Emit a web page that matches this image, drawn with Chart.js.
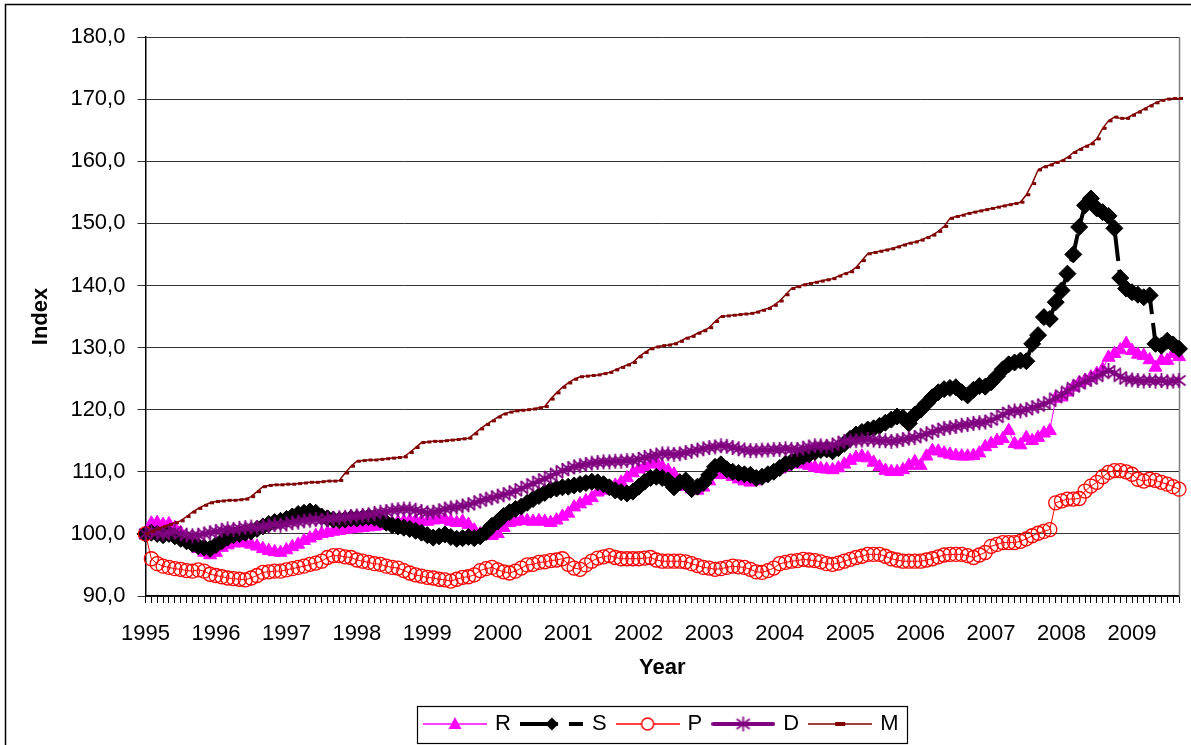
<!DOCTYPE html>
<html>
<head>
<meta charset="utf-8">
<title>Index 1995-2009</title>
<script src="https://cdn.jsdelivr.net/npm/chart.js@4.4.1/dist/chart.umd.min.js"></script>
<style>
  html, body { margin: 0; padding: 0; background: #fff; }
  #wrap { width: 1191px; height: 745px; }
</style>
</head>
<body>
<div id="wrap"><canvas id="chart" width="1191" height="745"></canvas></div>
<script>
// Monthly index values, Jan 1995 - Sep 2009
const years = ['1995', '1996', '1997', '1998', '1999', '2000', '2001', '2002',
               '2003', '2004', '2005', '2006', '2007', '2008', '2009'];
const seriesNames = ['R', 'S', 'P', 'D', 'M'];

const valuesR = [
    100.0, 101.7, 101.8, 101.5, 101.6, 101.0, 100.2, 99.3, 98.5, 97.6, 97.0, 96.6,
    97.0, 97.8, 98.2, 98.5, 98.6, 98.5, 98.3, 98.0, 97.6, 97.3, 97.1, 97.0,
    97.4, 97.9, 98.3, 98.9, 99.3, 99.7, 100.0, 100.2, 100.4, 100.5, 100.7, 100.8,
    100.9, 101.0, 101.1, 101.2, 101.3, 101.5, 101.7, 101.9, 102.0, 102.1, 102.1, 102.0,
    102.0, 102.2, 102.4, 102.3, 102.0, 101.8, 102.0, 101.5, 100.6, 100.0, 99.8, 99.7,
    100.0, 101.0, 101.8, 102.0, 102.2, 102.1, 102.0, 102.1, 102.0, 101.8, 102.2, 102.8,
    103.3, 104.3, 104.8, 105.3, 105.8, 106.7, 107.0, 107.3, 107.8, 108.3, 109.0, 109.8,
    110.4, 110.8, 111.2, 111.5, 110.8, 110.2, 109.6, 108.5, 107.6, 107.2, 107.0, 107.5,
    108.5, 109.5, 110.0, 109.5, 109.2, 108.8, 108.5, 108.3, 108.5, 109.0, 109.5, 110.0,
    110.4, 110.8, 111.2, 111.3, 111.2, 111.0, 110.7, 110.5, 110.4, 110.3, 110.6, 111.2,
    111.8, 112.3, 112.5, 112.2, 111.5, 110.8, 110.2, 110.0, 110.0, 110.3, 111.0, 111.6,
    111.0, 112.5, 113.4, 113.3, 113.0, 112.8, 112.6, 112.5, 112.5, 112.6, 113.0, 114.0,
    114.5, 115.0, 115.3, 116.6, 114.5, 114.3, 115.5, 115.0, 115.5, 116.2, 116.6, 121.8,
    122.0, 122.8, 123.6, 124.3, 124.7, 125.2, 125.8, 126.5, 128.4, 129.0, 129.6, 130.6,
    129.5, 128.9, 128.7, 128.0, 126.8, 127.9, 127.9, 129.0, 128.5
];

const valuesS = [
    100.0, 100.2, 100.0, 99.8, 100.0, 99.6, 99.2, 98.8, 98.4, 98.0, 97.8, 97.6,
    98.2, 98.8, 99.4, 99.8, 100.0, 100.2, 100.4, 100.8, 101.2, 101.6, 101.9, 102.1,
    102.4, 102.8, 103.2, 103.4, 103.6, 103.4, 102.8, 102.5, 102.3, 102.2, 102.3, 102.5,
    102.5, 102.6, 102.7, 102.6, 102.3, 101.8, 101.4, 101.2, 101.0, 100.8, 100.5, 100.2,
    99.8, 99.4, 99.6, 99.9, 99.5, 99.2, 99.3, 99.5, 99.3, 99.6, 100.3, 101.3,
    102.0, 102.9, 103.5, 104.0, 104.4, 105.0, 105.6, 106.1, 106.6, 107.1, 107.3, 107.5,
    107.6, 107.8, 108.0, 108.2, 108.4, 108.3, 108.0, 107.5, 107.0, 106.7, 106.5, 106.8,
    107.6, 108.4, 109.0, 109.2, 109.0, 108.6, 107.5, 108.3, 108.6, 107.2, 107.6, 108.2,
    109.5, 110.8, 111.2, 110.4, 110.0, 109.8, 109.6, 109.5, 109.0, 109.2, 109.6, 110.0,
    110.6, 111.3, 111.6, 112.0, 112.5, 112.8, 113.2, 113.5, 113.6, 113.3, 113.8, 114.5,
    115.3, 116.0, 116.4, 116.8, 117.0, 117.4, 117.9, 118.4, 118.9, 118.7, 117.8, 119.2,
    120.0, 121.0, 122.0, 122.8, 123.3, 123.5, 123.6, 122.8, 122.3, 123.2, 123.8, 123.7,
    124.4, 125.4, 126.5, 127.3, 127.6, 127.9, 127.8, 130.6, 132.0, 134.9, 134.6, 137.3,
    139.2, 141.9, 145.0, 149.4, 152.9, 154.0, 152.4, 151.8, 151.2, 149.2, 141.2, 139.5,
    138.9, 138.5, 138.1, 138.4, 130.6, 130.3, 131.1, 130.5, 129.8
];

const valuesP = [
    100.0, 96.0, 95.2, 94.8, 94.6, 94.4, 94.3, 94.1, 94.0, 94.2, 94.0, 93.5,
    93.3, 93.1, 92.9, 92.8, 92.7, 92.6, 92.9, 93.3, 93.8, 93.9, 94.0, 94.0,
    94.2, 94.4, 94.6, 94.8, 95.1, 95.3, 95.6, 96.2, 96.5, 96.5, 96.3, 96.2,
    95.8, 95.6, 95.4, 95.2, 95.1, 94.8, 94.6, 94.5, 94.1, 93.7, 93.4, 93.2,
    93.0, 92.9, 92.7, 92.6, 92.4, 92.7, 93.0, 93.1, 93.4, 94.1, 94.4, 94.6,
    94.2, 93.9, 93.7, 94.0, 94.5, 95.0, 95.1, 95.4, 95.5, 95.7, 95.8, 96.0,
    95.1, 94.5, 94.3, 95.0, 95.6, 96.1, 96.3, 96.5, 96.2, 96.0, 96.0, 96.0,
    96.0, 96.1, 96.2, 95.8, 95.6, 95.6, 95.6, 95.6, 95.5, 95.2, 94.9, 94.6,
    94.5, 94.3, 94.4, 94.6, 94.8, 94.7, 94.6, 94.3, 93.9, 93.8, 94.1, 94.5,
    95.2, 95.4, 95.6, 95.7, 95.9, 95.8, 95.7, 95.5, 95.2, 95.1, 95.3, 95.6,
    95.9, 96.2, 96.4, 96.7, 96.7, 96.7, 96.4, 96.0, 95.8, 95.6, 95.6, 95.6,
    95.6, 95.8, 96.0, 96.3, 96.6, 96.7, 96.7, 96.7, 96.5, 96.2, 96.6, 97.0,
    98.0, 98.3, 98.6, 98.6, 98.6, 98.8, 99.2, 99.7, 100.1, 100.4, 100.7, 105.0,
    105.3, 105.6, 105.6, 105.7, 106.9, 107.7, 108.3, 109.2, 109.9, 110.2, 110.2, 110.0,
    109.6, 108.8, 108.5, 108.8, 108.6, 108.3, 108.0, 107.6, 107.2
];

const valuesD = [
    100.0, 100.3, 100.2, 100.0, 100.2, 100.4, 100.0, 99.8, 99.7, 99.8, 100.0, 100.2,
    100.4, 100.6, 100.8, 100.7, 100.9, 101.0, 101.1, 101.0, 101.2, 101.3, 101.5, 101.4,
    101.6, 101.8, 101.9, 102.1, 102.2, 102.3, 102.2, 102.4, 102.5, 102.6, 102.7, 102.8,
    102.9, 103.0, 103.1, 103.3, 103.5, 103.6, 103.8, 103.9, 104.0, 104.0, 103.8, 103.6,
    103.4, 103.5, 103.7, 104.0, 104.2, 104.3, 104.5, 104.7, 105.0, 105.3, 105.6, 105.8,
    106.1, 106.3, 106.6, 106.9, 107.3, 107.7, 108.1, 108.5, 108.9, 109.3, 109.8, 110.2,
    110.5, 110.8, 111.0, 111.2, 111.4, 111.5, 111.6, 111.6, 111.7, 111.7, 111.8, 111.8,
    112.0, 112.3, 112.5, 112.7, 112.9, 112.9, 112.8, 112.9, 113.1, 113.3, 113.5, 113.7,
    113.9, 114.0, 114.2, 114.1, 113.9, 113.7, 113.5, 113.4, 113.4, 113.5, 113.5, 113.6,
    113.6, 113.7, 113.6, 113.6, 113.8, 114.0, 114.2, 114.2, 114.1, 114.3, 114.6, 114.9,
    115.0, 115.0, 115.1, 115.2, 115.1, 115.0, 115.0, 114.9, 115.0, 115.2, 115.4, 115.5,
    115.8, 116.1, 116.4, 116.7, 117.0, 117.1, 117.3, 117.5, 117.6, 117.8, 117.9, 118.0,
    118.3, 118.7, 119.2, 119.6, 119.8, 119.8, 120.0, 120.3, 120.6, 120.9, 121.3, 121.9,
    122.4, 123.0, 123.6, 124.1, 124.6, 124.9, 125.3, 125.8, 126.3, 125.9, 125.3, 124.9,
    124.8, 124.7, 124.6, 124.7, 124.6, 124.7, 124.5, 124.6, 124.7
];

const valuesM = [
    100.0, 100.4, 100.8, 101.2, 101.5, 101.8, 102.1, 102.8, 103.5, 104.1, 104.6, 105.0,
    105.2, 105.3, 105.4, 105.4, 105.5, 105.6, 106.0, 106.8, 107.6, 107.8, 107.9, 107.9,
    108.0, 108.0, 108.1, 108.2, 108.3, 108.3, 108.4, 108.5, 108.5, 108.6, 109.8, 110.9,
    111.7, 111.8, 111.9, 111.9, 112.0, 112.1, 112.2, 112.3, 112.4, 113.1, 113.9, 114.7,
    114.8, 114.9, 114.9, 115.0, 115.1, 115.2, 115.3, 115.4, 116.1, 116.9, 117.6, 118.2,
    118.8, 119.3, 119.6, 119.8, 119.9, 120.0, 120.1, 120.3, 120.5, 121.7, 122.7, 123.6,
    124.3, 124.9, 125.3, 125.4, 125.5, 125.6, 125.8, 126.0, 126.4, 126.8, 127.2, 127.6,
    128.5, 129.2, 129.8, 130.1, 130.3, 130.4, 130.6, 131.0, 131.5, 131.8, 132.3, 132.7,
    133.2, 134.2, 135.0, 135.1, 135.2, 135.3, 135.4, 135.5, 135.7, 136.0, 136.3, 136.8,
    137.5, 138.5, 139.5, 139.8, 140.1, 140.3, 140.5, 140.7, 140.9, 141.1, 141.5, 141.9,
    142.2, 142.9, 144.0, 145.1, 145.3, 145.5, 145.7, 145.9, 146.2, 146.5, 146.8, 147.0,
    147.3, 147.7, 148.1, 148.7, 149.5, 150.8, 151.1, 151.3, 151.6, 151.8, 152.0, 152.2,
    152.4, 152.6, 152.8, 153.0, 153.2, 153.4, 154.6, 156.4, 158.6, 159.1, 159.4, 159.8,
    160.1, 160.6, 161.4, 161.9, 162.4, 162.8, 163.6, 165.3, 166.5, 167.1, 166.9, 166.9,
    167.4, 167.9, 168.4, 168.9, 169.4, 169.8, 170.0, 170.1, 170.1
];

const seriesColors = ['#FF00FF', '#000000', '#FF0000', '#800080', '#800000'];

// month categories, the year is only printed on January
const months = [];
years.forEach(y => {
    for (let m = 1; m <= 12; m++) months.push(y + '-' + String(m).padStart(2, '0'));
});
months.length = valuesR.length;

// Excel-like asterisk marker for D
function starMarker(color) {
    const c = document.createElement('canvas');
    c.width = 17; c.height = 17;
    const g = c.getContext('2d');
    g.strokeStyle = color;
    g.lineWidth = 1.8;
    g.beginPath();
    g.moveTo(8.5, 1); g.lineTo(8.5, 16);
    g.moveTo(2, 3.5); g.lineTo(15, 13.5);
    g.moveTo(2, 13.5); g.lineTo(15, 3.5);
    g.stroke();
    return c;
}
const dMarker = starMarker(seriesColors[3]);

// legend samples: line with the marker in the middle
function legendSymbol(idx) {
    const c = document.createElement('canvas');
    c.width = 64; c.height = 20;
    const g = c.getContext('2d');
    const cx = 32, cy = 10;
    const col = seriesColors[idx];
    g.strokeStyle = col;
    g.fillStyle = col;
    g.beginPath();
    if (idx === 0) {
        g.lineWidth = 1.5;
        g.moveTo(0, cy); g.lineTo(64, cy); g.stroke();
        g.beginPath();
        g.moveTo(cx, cy - 7); g.lineTo(cx + 6.5, cy + 5); g.lineTo(cx - 6.5, cy + 5);
        g.closePath(); g.fill();
    } else if (idx === 1) {
        g.lineWidth = 4;
        g.moveTo(0, cy); g.lineTo(38, cy);
        g.moveTo(49, cy); g.lineTo(63, cy);
        g.stroke();
        g.beginPath();
        g.moveTo(cx, cy - 6.5); g.lineTo(cx + 6.5, cy); g.lineTo(cx, cy + 6.5); g.lineTo(cx - 6.5, cy);
        g.closePath(); g.fill();
    } else if (idx === 2) {
        g.lineWidth = 1.5;
        g.moveTo(0, cy); g.lineTo(64, cy); g.stroke();
        g.beginPath();
        g.arc(cx, cy, 6, 0, Math.PI * 2);
        g.fillStyle = '#fff'; g.fill();
        g.stroke();
    } else if (idx === 3) {
        g.lineWidth = 4;
        g.lineCap = 'round';
        g.moveTo(2, cy); g.lineTo(62, cy); g.stroke();
        g.drawImage(dMarker, cx - 8.5, cy - 8.5);
    } else {
        g.lineWidth = 1.5;
        g.moveTo(0, cy); g.lineTo(64, cy); g.stroke();
        g.fillRect(cx - 5, cy - 2, 10, 4);
    }
    return c;
}
const legendImgs = seriesNames.map((_, i) => legendSymbol(i));

// frame of the chart, right edge of the plot and the box round the legend
const framePlugin = {
    id: 'frame',
    beforeDraw(chart) {
        const ctx = chart.ctx;
        ctx.save();
        ctx.fillStyle = '#fff';
        ctx.fillRect(0, 0, chart.width, chart.height);
        ctx.strokeStyle = '#000';
        ctx.lineWidth = 1.5;
        ctx.strokeRect(5.5, 4.5, chart.width + 20, chart.height + 20);
        ctx.restore();
    },
    beforeDatasetsDraw(chart) {
        const ctx = chart.ctx;
        const a = chart.chartArea;
        ctx.save();
        ctx.strokeStyle = '#808080';
        ctx.lineWidth = 1.5;
        ctx.beginPath();
        ctx.moveTo(Math.round(a.right) + 0.5, a.top);
        ctx.lineTo(Math.round(a.right) + 0.5, a.bottom);
        ctx.stroke();
        ctx.restore();
    },
    afterDraw(chart) {
        const boxes = chart.legend && chart.legend.legendHitBoxes;
        if (!boxes || !boxes.length) return;
        const left = Math.min(...boxes.map(b => b.left)) - 9;
        const right = Math.max(...boxes.map(b => b.left + b.width)) + 9;
        const top = Math.min(...boxes.map(b => b.top)) - 7;
        const bottom = Math.max(...boxes.map(b => b.top + b.height)) + 8;
        const ctx = chart.ctx;
        ctx.save();
        ctx.strokeStyle = '#000';
        ctx.lineWidth = 1.2;
        ctx.strokeRect(Math.round(left) + 0.5, Math.round(top) + 0.5,
                       Math.round(right - left), Math.round(bottom - top));
        ctx.restore();
    }
};

Chart.defaults.font.family = '"Liberation Sans", Arial, sans-serif';
Chart.defaults.font.size = 22;
Chart.defaults.color = '#000';

const ctx = document.getElementById('chart').getContext('2d');
const chart = new Chart(ctx, {
    type: 'line',
    data: {
        labels: months,
        datasets: [
            {
                label: seriesNames[0],
                data: valuesR,
                borderColor: seriesColors[0],
                backgroundColor: seriesColors[0],
                borderWidth: 1,
                pointStyle: 'triangle',
                pointRadius: 7.5,
                pointBorderWidth: 1,
                order: 5
            },
            {
                label: seriesNames[1],
                data: valuesS,
                borderColor: seriesColors[1],
                backgroundColor: seriesColors[1],
                borderWidth: 4,
                borderDash: [28, 9],
                pointStyle: 'rectRot',
                pointRadius: 8.5,
                pointBorderWidth: 1,
                order: 4
            },
            {
                label: seriesNames[2],
                data: valuesP,
                borderColor: seriesColors[2],
                backgroundColor: 'rgba(0,0,0,0)',
                borderWidth: 1,
                pointStyle: 'circle',
                pointRadius: 7,
                pointBorderWidth: 1.3,
                order: 3
            },
            {
                label: seriesNames[3],
                data: valuesD,
                borderColor: seriesColors[3],
                backgroundColor: seriesColors[3],
                borderWidth: 4,
                pointStyle: dMarker,
                pointRadius: 8,
                order: 2
            },
            {
                label: seriesNames[4],
                data: valuesM,
                borderColor: seriesColors[4],
                backgroundColor: seriesColors[4],
                borderWidth: 1.5,
                pointStyle: 'dash',
                pointRadius: 4,
                pointBorderWidth: 3,
                order: 1
            }
        ]
    },
    options: {
        responsive: false,
        animation: false,
        devicePixelRatio: 1,
        events: [],
        elements: { line: { tension: 0 } },
        datasets: { line: { clip: false } },
        layout: { padding: { top: 37, right: 5, left: 14, bottom: 0 } },
        scales: {
            x: {
                offset: false,
                grid: { drawOnChartArea: false, drawTicks: true, tickLength: 7, color: '#000' },
                border: { display: true, color: '#000', width: 1.5 },
                ticks: {
                    autoSkip: false,
                    maxRotation: 0,
                    padding: 0,
                    font: { size: 22, lineHeight: 2.8 },
                    callback: (value, index) => months[index].endsWith('-01') ? months[index].slice(0, 4) : ''
                },
                title: {
                    display: true,
                    text: 'Year',
                    font: { size: 22, weight: 'bold' },
                    padding: { top: -10, bottom: 20 }
                }
            },
            y: {
                min: 90,
                max: 180,
                grid: { color: '#333', lineWidth: 1, tickLength: 8 },
                border: { display: true, color: '#000', width: 1.5 },
                ticks: {
                    stepSize: 10,
                    padding: 12,
                    callback: v => v.toFixed(1).replace('.', ',')
                },
                title: {
                    display: true,
                    text: 'Index',
                    font: { size: 22, weight: 'bold' },
                    padding: { top: 14, bottom: 4 }
                }
            }
        },
        plugins: {
            tooltip: { enabled: false },
            legend: {
                position: 'bottom',
                fullSize: false,
                labels: {
                    usePointStyle: true,
                    pointStyleWidth: 58,
                    boxHeight: 16,
                    padding: 12,
                    color: '#000',
                    font: { size: 22 },
                    generateLabels: () => seriesNames.map((name, i) => ({
                        text: name,
                        pointStyle: legendImgs[i],
                        fillStyle: seriesColors[i],
                        strokeStyle: seriesColors[i],
                        lineWidth: 0,
                        hidden: false,
                        datasetIndex: i,
                        fontColor: '#000'
                    }))
                }
            }
        }
    },
    plugins: [framePlugin]
});
</script>
</body>
</html>
